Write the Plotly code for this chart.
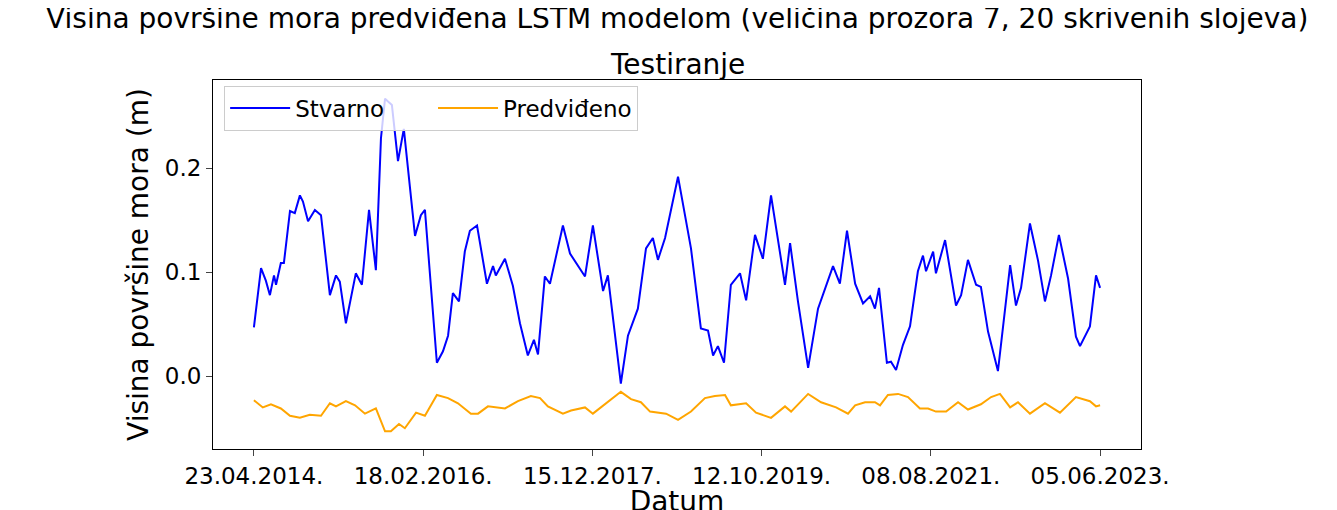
import plotly.graph_objects as go

# days since 23.04.2014
actual_days = [0,28,47,63,79,87,106,118,142,161,181,193,213,240,264,299,323,338,362,401,425,453,480,500,516,543,567,590,634,657,673,720,744,764,783,807,830,850,878,917,941,952,988,1019,1047,1078,1102,1118,1145,1165,1216,1244,1303,1334,1374,1393,1444,1472,1511,1543,1570,1590,1618,1669,1720,1759,1787,1807,1826,1850,1877,1913,1937,1972,2003,2035,2090,2110,2141,2181,2220,2279,2306,2334,2366,2397,2425,2444,2460,2491,2507,2527,2554,2582,2613,2633,2645,2673,2684,2720,2763,2783,2810,2842,2861,2889,2928,2976,2999,3019,3054,3086,3113,3137,3168,3204,3235,3251,3290,3314,3330]
actual_vals = [0.047,0.104,0.092,0.078,0.097,0.088,0.109,0.109,0.159,0.157,0.174,0.168,0.149,0.160,0.155,0.078,0.097,0.091,0.051,0.099,0.088,0.160,0.102,0.229,0.267,0.261,0.207,0.238,0.135,0.155,0.160,0.013,0.024,0.039,0.080,0.072,0.120,0.140,0.145,0.089,0.106,0.097,0.113,0.087,0.051,0.020,0.035,0.021,0.096,0.089,0.145,0.118,0.096,0.145,0.082,0.097,-0.007,0.039,0.065,0.123,0.133,0.112,0.133,0.192,0.123,0.046,0.044,0.020,0.029,0.013,0.088,0.099,0.073,0.136,0.113,0.174,0.088,0.128,0.072,0.008,0.065,0.106,0.089,0.140,0.089,0.070,0.077,0.065,0.085,0.013,0.014,0.006,0.030,0.048,0.101,0.116,0.101,0.120,0.099,0.131,0.068,0.078,0.112,0.088,0.086,0.043,0.005,0.107,0.068,0.085,0.147,0.111,0.072,0.097,0.136,0.094,0.038,0.029,0.048,0.097,0.085]

pred_days = [0,35,67,106,142,181,220,264,299,323,362,398,437,480,516,539,571,594,638,673,720,764,803,854,882,921,988,1039,1090,1126,1157,1216,1248,1303,1334,1382,1444,1484,1523,1559,1622,1669,1720,1775,1814,1854,1877,1937,1976,2035,2090,2114,2181,2232,2291,2338,2366,2405,2444,2464,2495,2535,2574,2621,2653,2684,2724,2771,2810,2861,2901,2936,2976,3007,3054,3113,3172,3235,3290,3314,3330]
pred_vals = [-0.023,-0.030,-0.027,-0.031,-0.038,-0.040,-0.037,-0.038,-0.026,-0.029,-0.024,-0.028,-0.036,-0.031,-0.053,-0.053,-0.046,-0.050,-0.035,-0.038,-0.018,-0.021,-0.026,-0.036,-0.036,-0.029,-0.031,-0.024,-0.019,-0.021,-0.029,-0.036,-0.033,-0.030,-0.036,-0.027,-0.015,-0.022,-0.025,-0.034,-0.036,-0.042,-0.034,-0.021,-0.019,-0.018,-0.028,-0.026,-0.035,-0.040,-0.029,-0.034,-0.017,-0.025,-0.030,-0.036,-0.028,-0.025,-0.025,-0.028,-0.018,-0.017,-0.020,-0.031,-0.031,-0.034,-0.034,-0.025,-0.032,-0.027,-0.020,-0.017,-0.030,-0.025,-0.036,-0.026,-0.035,-0.020,-0.024,-0.029,-0.028]

tick_days = [0,666,1332,1998,2664,3330]
tick_labels = ["23.04.2014.","18.02.2016.","15.12.2017.","12.10.2019.","08.08.2021.","05.06.2023."]

font = "DejaVu Sans"
fig = go.Figure()
fig.add_trace(go.Scatter(x=actual_days, y=actual_vals, mode="lines", name="Stvarno      ",
                         line=dict(color="blue", width=2)))
fig.add_trace(go.Scatter(x=pred_days, y=pred_vals, mode="lines", name="Predviđeno",
                         line=dict(color="orange", width=2)))
fig.add_annotation(text="Visina površine mora predviđena LSTM modelom (veličina prozora 7, 20 skrivenih slojeva)",
                   xref="paper", yref="paper", x=0.5, y=1.0, yshift=62, xanchor="center", yanchor="middle",
                   showarrow=False, font=dict(size=28))
fig.add_annotation(text="Testiranje", xref="paper", yref="paper", x=0.5, y=1.0, yshift=16,
                   xanchor="center", yanchor="middle", showarrow=False, font=dict(size=28))
fig.update_layout(
    width=1337, height=510, plot_bgcolor="white", paper_bgcolor="white",
    margin=dict(l=205, r=204, t=72, b=69, autoexpand=False),
    font=dict(family=font, size=23, color="black"),
    legend=dict(orientation="h", x=0.012, y=0.985, xanchor="left", yanchor="top",
                bordercolor="#cccccc", borderwidth=1, bgcolor="rgba(255,255,255,0.8)",
                font=dict(size=23), itemwidth=60),
    xaxis=dict(range=[-161, 3491], tickvals=tick_days, ticktext=tick_labels,
               showgrid=False, zeroline=False, showline=True, linecolor="black", mirror=True,
               ticks="outside", ticklen=6, title=dict(text="Datum", standoff=4)),
    yaxis=dict(range=[-0.070, 0.285], tickvals=[0.0, 0.1, 0.2], ticktext=["0.0", "0.1", "0.2"],
               showgrid=False, zeroline=False, showline=True, linecolor="black", mirror=True,
               ticks="outside", ticklen=6, title=dict(text="Visina površine mora (m)", standoff=8)),
)
fig.write_html("out.html")
